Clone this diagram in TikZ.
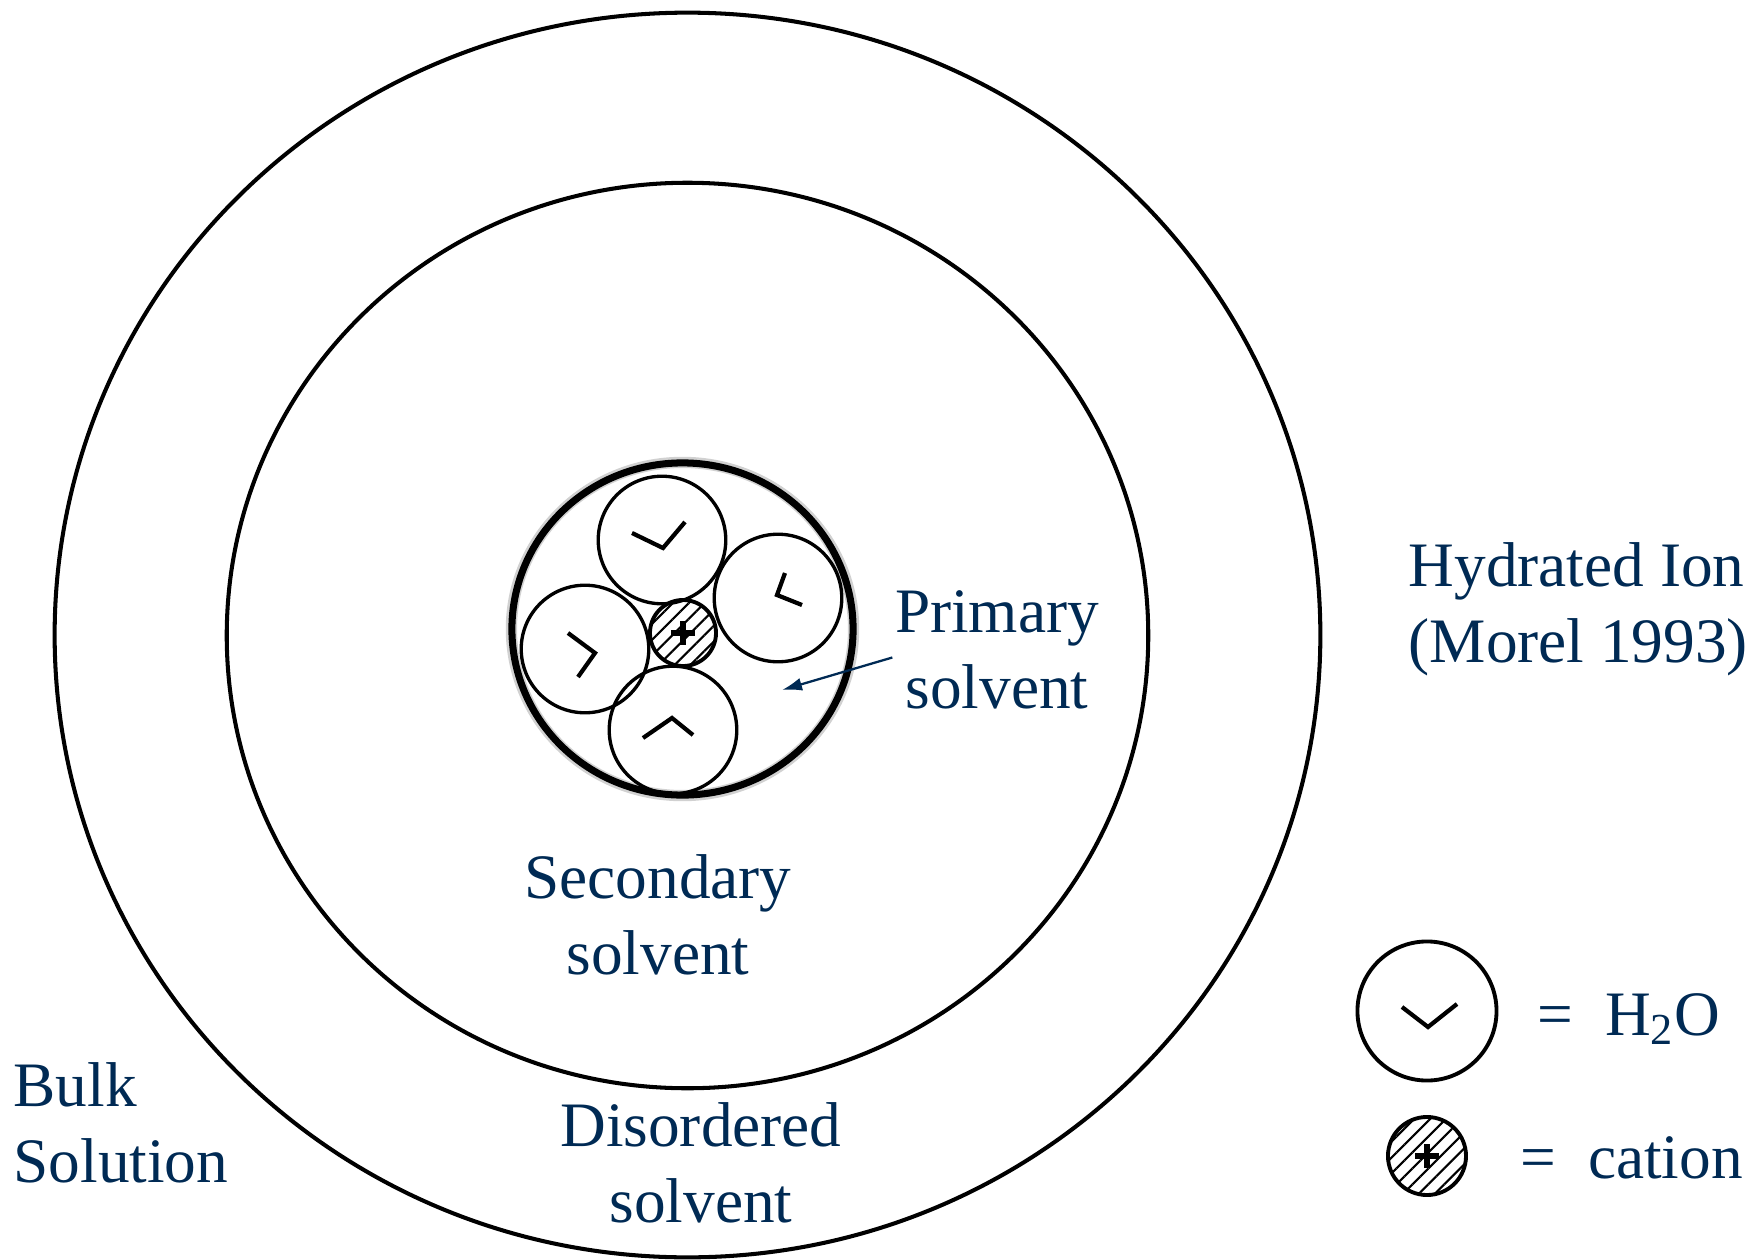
\documentclass[tikz,border=0pt]{standalone}
\usepackage{fontspec}
\setmainfont{Liberation Serif}
\usepackage{tikz}
\usetikzlibrary{calc, arrows.meta, patterns.meta}
\definecolor{ionNavy}{HTML}{002A54}

\begin{document}
\begin{tikzpicture}[x=0.01cm, y=-0.01cm,
		ring/.style={line width=1.15pt},
		water/.style={circle, draw=black, line width=0.95pt, inner sep=0pt, minimum size=12.75mm},
		vee/.style={line width=1.2pt, line join=miter},
		cation/.style={circle, draw=black, line width=1.1pt, inner sep=0pt,
			pattern={Lines[angle=45, distance=3.2pt, line width=0.6pt]},
			path picture={
				\draw[line width=1.7pt] ([xshift=-1.2mm]path picture bounding box.center) -- ([xshift=1.2mm]path picture bounding box.center);
				\draw[line width=1.7pt] ([yshift=-1.2mm]path picture bounding box.center) -- ([yshift=1.2mm]path picture bounding box.center);
			}},
		lbl/.style={inner sep=0pt, text=ionNavy, align=center, font=\fontsize{18pt}{21.6pt}\selectfont},
		pointer/.style={draw=ionNavy, line width=0.65pt, -{Latex[length=2mm, width=1.3mm]}}]
		\useasboundingbox (0,0) rectangle (1756,1260);
		%-------------------------------------------------------------------------------
		% solvent shells
		%-------------------------------------------------------------------------------
		\draw[ring] (687.5,635) ellipse [x radius=63.25mm, y radius=62.2mm];
		\draw[ring] (687.5,635.5) ellipse [x radius=46.05mm, y radius=45.25mm];
		\draw[line width=3.2pt, black!18] (682.5,629) ellipse [x radius=17.1mm, y radius=16.65mm];
		\draw[line width=2pt] (682.5,629) ellipse [x radius=17.05mm, y radius=16.6mm];
		
		% core nodes
		\node[water] (wtop) at (662,540) {};
		\node[water] (wright) at (778,598) {};
		\node[water] (wleft) at (585,649) {};
		\node[water] (wbot) at (673,730) {};
		\node[cation, minimum size=6.6mm] (ion) at (683,633) {};
		% water marks
		\draw[vee] ($(wtop)+(-30,-7)$) -- ++(31,15) -- ++(22,-26);
		\draw[vee] ($(wright)+(7,-25)$) -- ++(-8,22) -- ++(25,10);
		\draw[vee] ($(wleft)+(-17,-16)$) -- ++(27,20) -- ++(-17,24);
		\draw[vee] ($(wbot)+(-30,8)$) -- ++(29,-20) -- ++(21,17);
		
		% labels
		\node[lbl] (prim) at (997,649.5) {Primary\\solvent};
		\node[lbl] (sec) at (658,914.5) {Secondary\\solvent};
		\node[lbl] (dis) at (701,1163) {Disordered\\solvent};
		\node[lbl, align=left, anchor=west] (bulk) at (13,1123) {Bulk\\Solution};
		\node[lbl, align=left, anchor=west] (hyd) at (1408,609.5) {Hydrated Ion\\(Morel 1993)};
		\coordinate (primtip) at (782,690);
		\draw[pointer] ($(prim.west)+(-2,8)$) -- (primtip);
		
		% legend
		\node[water, minimum size=13.9mm, line width=1.1pt] (keyw) at (1427,1011) {};
		\draw[vee] ($(keyw)+(-25,-4)$) -- ++(26,20) -- ++(29,-23);
		\node[cation, minimum size=7.8mm] (keyc) at (1427,1156) {};
		\node[lbl, anchor=base west] (keywt) at (1537,1035) {=~~H\textsubscript{2}O};
		\node[lbl, anchor=base west] (keyct) at (1520,1178) {=~~cation};
\end{tikzpicture}
\end{document}
